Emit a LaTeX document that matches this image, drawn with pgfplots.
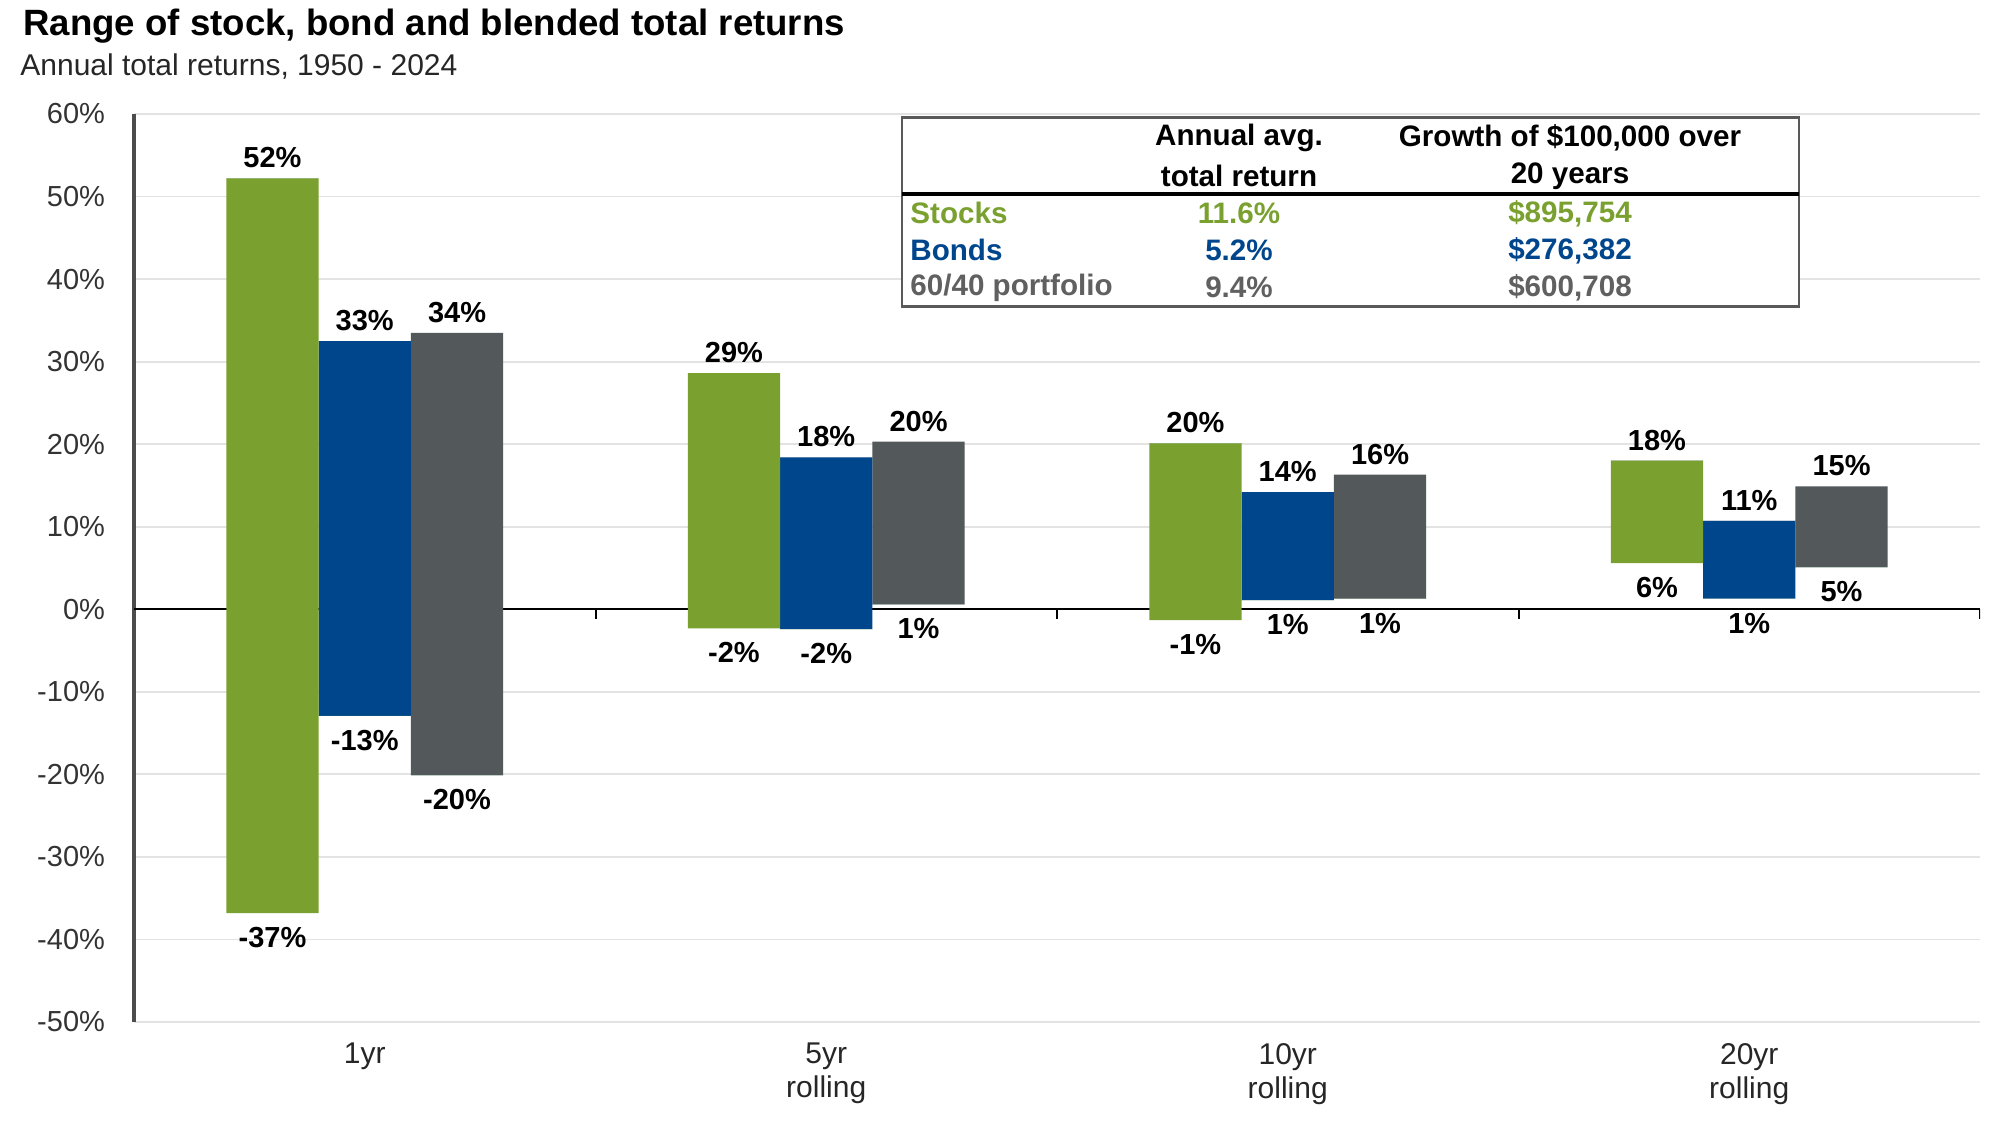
\documentclass[border=0pt]{standalone}
\usepackage{fontspec}
\setmainfont{Liberation Sans}
\usepackage{pgfplots}
\usepackage{pgfplotstable}
\pgfplotsset{compat=1.18}

\definecolor{stockgreen}{RGB}{122,161,48}
\definecolor{bondblue}{RGB}{0,70,140}
\definecolor{blendgray}{RGB}{83,88,90}
\definecolor{tablegray}{RGB}{96,96,96}

% low / high of each floating bar, grp: 1 stocks, 2 bonds, 3 60/40
\pgfplotstableread{
x     low    high  grp  lowlab  highlab
-0.2  -36.8  52.2  1    -37     52
0.0   -12.9  32.5  2    -13     33
0.2   -20.1  33.5  3    -20     34
0.8   -2.3   28.6  1    -2      29
1.0   -2.4   18.4  2    -2      18
1.2   0.6    20.3  3    1       20
1.8   -1.3   20.1  1    -1      20
2.0   1.1    14.2  2    1       14
2.2   1.3    16.3  3    1       16
2.8   5.6    18.0  1    6       18
3.0   1.3    10.7  2    1       11
3.2   5.1    14.9  3    5       15
}\ranges

\begin{document}
\begin{tikzpicture}
\useasboundingbox (0,0) rectangle (996.5pt,565pt);

\begin{axis}[
  at={(67pt,54pt)}, anchor=south west,
  scale only axis, width=923pt, height=454pt,
  ybar stacked, bar width=0.2,
  stack negative=on previous,
  stacked ignores zero=false,
  xmin=-0.5, xmax=3.5, ymin=-50, ymax=60,
  axis lines*=left,
  x axis line style={draw=none},
  y axis line style={draw=black!70, line width=1.6pt},
  xtick={0,1,2,3},
  xticklabels={1yr, 5yr\\rolling, 10yr\\rolling, 20yr\\rolling},
  xticklabel style={align=center, font=\fontsize{15}{17}\selectfont,
    text=black!85, anchor=north, yshift=-7pt},
  ytick={-50,-40,...,60},
  yticklabel={\pgfmathprintnumber[assume math mode=true]{\tick}\%},
  yticklabel style={font=\fontsize{14.5}{16}\selectfont, text=black!80, xshift=-11pt},
  major tick length=0pt,
  ymajorgrids, grid style={gray!22, line width=0.9pt},
  every node near coord/.append style={font=\bfseries\fontsize{14.5}{16}\selectfont,
    text=black, inner sep=1pt},
]
% invisible base from 0 to the low end
\addplot[draw=none, fill=none] table[x=x, y=low] {\ranges};
% zero-height layer at the low end, carries the lower labels
\addplot[draw=none, fill=none, point meta=explicit symbolic,
  nodes near coords={\pgfplotspointmeta\%},
  every node near coord/.append style={anchor=north, yshift=-6pt}]
  table[x=x, y expr=0, meta=lowlab] {\ranges};
\addplot[draw=none, fill=stockgreen]
  table[x=x, y expr={(\thisrow{grp}==1)*(\thisrow{high}-\thisrow{low})}] {\ranges};
\addplot[draw=none, fill=bondblue]
  table[x=x, y expr={(\thisrow{grp}==2)*(\thisrow{high}-\thisrow{low})}] {\ranges};
\addplot[draw=none, fill=blendgray]
  table[x=x, y expr={(\thisrow{grp}==3)*(\thisrow{high}-\thisrow{low})}] {\ranges};
% zero-height layer at the top end, carries the upper labels
\addplot[draw=none, fill=none, point meta=explicit symbolic,
  nodes near coords={\pgfplotspointmeta\%},
  every node near coord/.append style={anchor=south, yshift=4pt}]
  table[x=x, y expr=0, meta=highlab] {\ranges};

\draw[black, line width=1pt] (axis cs:-0.5,0) -- (axis cs:3.5,0);
\pgfplotsinvokeforeach{0.5,1.5,2.5,3.5}{
  \draw[black, line width=1pt] (axis cs:#1,0) -- ([yshift=-5pt]axis cs:#1,0);
}
\end{axis}

% title
\node[anchor=base west, inner sep=0pt, font=\bfseries\fontsize{18.3}{21}\selectfont]
  at (11.5pt,547pt) {Range of stock, bond and blended total returns};
\node[anchor=base west, inner sep=0pt, font=\fontsize{15}{17}\selectfont, text=black!85]
  at (10pt,527pt) {Annual total returns, 1950 - 2024};

% summary table
\draw[fill=white, draw=black!65, line width=1.1pt] (451pt,411.7pt) rectangle (899.5pt,506.2pt);
\draw[black, line width=1.6pt] (451pt,468pt) -- (899.5pt,468pt);
\begin{scope}[every node/.style={inner sep=0pt, font=\bfseries\fontsize{14.8}{17}\selectfont}]
  \node at (619.5pt,496pt) {Annual avg.};
  \node at (619.5pt,477pt) {total return};
  \node at (785pt,496pt) {Growth of \$100,000 over};
  \node at (785pt,477pt) {20 years};
  \node[anchor=west, text=stockgreen] at (455pt,458.3pt) {Stocks};
  \node[text=stockgreen] at (619.5pt,458.3pt) {11.6\%};
  \node[text=stockgreen] at (785pt,458.3pt) {\$895,754};
  \node[anchor=west, text=bondblue] at (455pt,439.8pt) {Bonds};
  \node[text=bondblue] at (619.5pt,439.8pt) {5.2\%};
  \node[text=bondblue] at (785pt,439.8pt) {\$276,382};
  \node[anchor=west, text=tablegray] at (455pt,421.3pt) {60/40 portfolio};
  \node[text=tablegray] at (619.5pt,421.3pt) {9.4\%};
  \node[text=tablegray] at (785pt,421.3pt) {\$600,708};
\end{scope}
\end{tikzpicture}
\end{document}
